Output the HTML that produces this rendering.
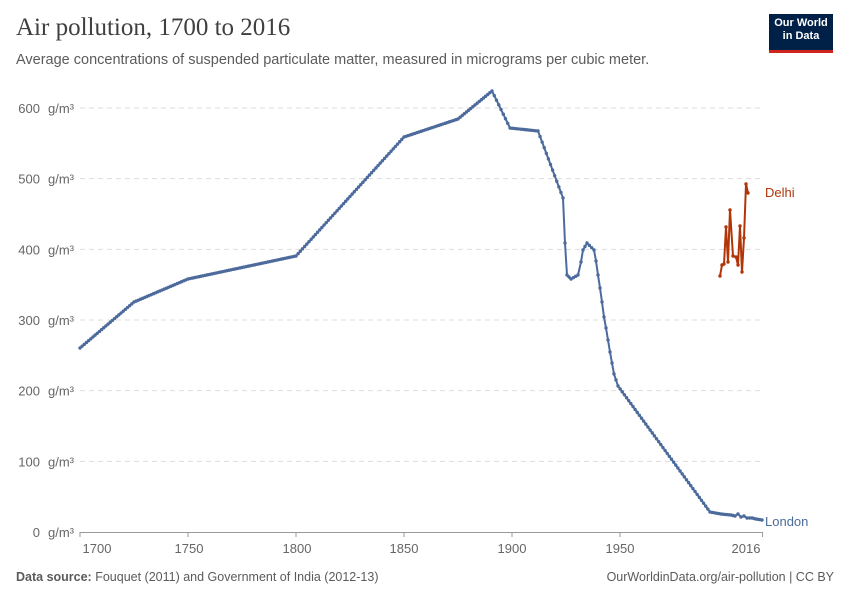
<!DOCTYPE html>
<html><head><meta charset="utf-8"><style>
body{margin:0;background:#fff;font-family:"Liberation Sans",sans-serif;}
.wrap{position:relative;width:850px;height:600px;overflow:hidden}
</style></head><body><div class="wrap">
<div style="position:absolute;left:16px;top:14px;font-family:'Liberation Serif',serif;font-size:25px;color:#3f3f3f;">Air pollution, 1700 to 2016</div>
<div style="position:absolute;left:16px;top:52px;font-size:14.5px;color:#5b5b5b;">Average concentrations of suspended particulate matter, measured in micrograms per cubic meter.</div>
<div style="position:absolute;left:769px;top:14px;width:64px;height:36px;background:#002147;border-bottom:3px solid #ce261e;color:#fff;font-size:11px;font-weight:bold;text-align:center;line-height:13px;padding-top:3px;box-sizing:border-box;height:39px">Our World<br>in Data</div>
<svg id="s" width="850" height="600" style="position:absolute;left:0;top:0" font-family="Liberation Sans, sans-serif"></svg>
<div style="position:absolute;left:16px;top:570px;font-size:12.5px;color:#5b5b5b;"><b>Data source:</b> Fouquet (2011) and Government of India (2012-13)</div>
<div style="position:absolute;right:16px;top:570px;font-size:12.5px;color:#5b5b5b;">OurWorldinData.org/air-pollution | CC BY</div>
</div>
<script>
var s=document.getElementById('s'),h='';
for(var i=0;i<=6;i++){var y=532-i*70.67;
 if(i>0)h+='<line x1="80" x2="760" y1="'+y+'" y2="'+y+'" stroke="#ddd" stroke-dasharray="5,4"/>';
 h+='<text x="40" y="'+(y+5)+'" font-size="13" fill="#666" text-anchor="end">'+(i*100)+'</text><text x="48" y="'+(y+5)+'" font-size="13" fill="#666">g/m³</text>';}
h+='<line x1="80" x2="762" y1="532.5" y2="532.5" stroke="#999"/>';
[[97,'1700',1700],[189,'1750',1750],[297,'1800',1800],[404,'1850',1850],[512,'1900',1900],[620,'1950',1950],[746,'2016',2016]].forEach(function(t){
 var x=80+(t[2]-1700)*2.16;h+='<line x1="'+x+'" x2="'+x+'" y1="532" y2="537" stroke="#999"/><text x="'+t[0]+'" y="553" font-size="13" fill="#666" text-anchor="middle">'+t[1]+'</text>';});
var L=[[80,348],[134,302],[188,279],[296,256],[404,137],[458,119],[492,91],[510,128],[538,131],[563,198],[565,243],[567,275],[571,279],[578,275],[581,262],[583,250],[587,243],[594,250],[596,261],[598,275],[600,288],[602,302],[604,317],[606,328],[608,340],[610,352],[612,363],[614,374],[618,386],[710,512],[721,514],[731,515],[735,516],[738,514],[741,517],[744,516],[747,518],[752,518],[756,519],[762,520]];
function pl(P,c){var d=P.map(function(p){return p.join(',')}).join(' ');h+='<polyline points="'+d+'" fill="none" stroke="'+c+'" stroke-width="2"/>';
 for(var i=0;i<P.length;i++){h+='<circle cx="'+P[i][0]+'" cy="'+P[i][1]+'" r="1.7" fill="'+c+'"/>';
  if(i<P.length-1){var dx=P[i+1][0]-P[i][0],n=Math.round(dx/2.16);for(var k=1;k<n;k++){h+='<circle cx="'+(P[i][0]+dx*k/n)+'" cy="'+(P[i][1]+(P[i+1][1]-P[i][1])*k/n)+'" r="1.7" fill="'+c+'"/>';}}}}
pl(L,'#4c6a9c');
var D=[[720,276],[722,265],[724,264],[726,227],[728,262],[730,210],[733,256],[736,257],[738,265],[740,226],[742,272],[744,238],[746,184],[748,193]];
pl(D,'#b13507');
h+='<text x="765" y="197" font-size="13" fill="#b13507">Delhi</text><text x="765" y="526" font-size="13" fill="#4c6a9c">London</text>';
s.innerHTML=h;
</script></body></html>
